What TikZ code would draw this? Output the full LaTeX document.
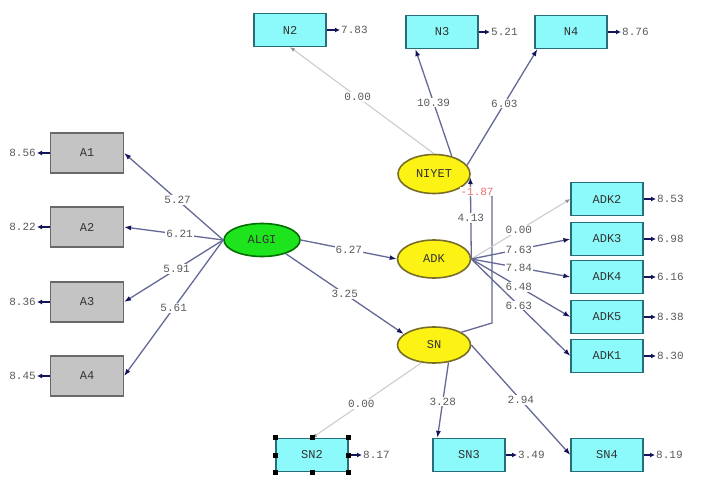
\documentclass[tikz,border=0pt]{standalone}
\usepackage{fontspec}
\setmonofont{Liberation Mono}
\usetikzlibrary{arrows.meta,shapes.geometric}
\definecolor{boxgray}{RGB}{196,196,196}
\definecolor{boxedge}{RGB}{105,105,105}
\definecolor{cyanfill}{RGB}{140,250,250}
\definecolor{cyanedge}{RGB}{40,110,120}
\definecolor{yellfill}{RGB}{252,242,20}
\definecolor{yelledge}{RGB}{120,110,40}
\definecolor{algigreen}{RGB}{30,228,30}
\definecolor{greenedge}{RGB}{0,110,0}
\definecolor{pathcol}{RGB}{100,105,150}
\definecolor{tipcol}{RGB}{20,20,90}
\definecolor{zerocol}{RGB}{205,205,205}
\definecolor{txtgray}{RGB}{90,90,90}
\definecolor{covred}{RGB}{235,110,110}

\begin{document}
\begin{tikzpicture}[
  x=1pt, y=-1pt,
  every node/.style={font=\ttfamily\fontsize{11}{13}\selectfont,text=txtgray},
  name font/.style={font=\ttfamily\fontsize{12}{14}\selectfont,text=black!80},
  obs gray/.style={rectangle,draw=boxedge,fill=boxgray,line width=1.2pt,minimum width=73pt,minimum height=40pt,inner sep=0pt,name font},
  obs cyan/.style={rectangle,draw=cyanedge,fill=cyanfill,line width=1.2pt,minimum width=72pt,minimum height=33pt,inner sep=0pt,name font},
  latent/.style={ellipse,draw=yelledge,fill=yellfill,line width=1.6pt,minimum width=73pt,minimum height=37pt,inner sep=0pt,name font},
  load line/.style={draw=pathcol,line width=1.3pt,-{Latex[length=7pt,width=5pt,color=tipcol]}},
  zero line/.style={draw=zerocol,line width=1.1pt,-{Latex[length=5pt,width=4pt,color=zerocol!70!black]}},
  err line/.style={draw=tipcol,line width=1.5pt,-{Latex[length=5pt,width=5pt]}},
  cov line/.style={draw=pathcol,line width=1.3pt},
  edge label/.style={fill=white,inner sep=1pt},
  err label/.style={inner sep=1pt},
  handle/.style={rectangle,fill=black,minimum size=5pt,inner sep=0pt},
]
\useasboundingbox[fill=white] (0,0) rectangle (708,484);

% observed variables
\node[obs gray] (A1) at (87,153) {A1};
\node[obs gray] (A2) at (87,227) {A2};
\node[obs gray] (A3) at (87,302) {A3};
\node[obs gray] (A4) at (87,376) {A4};
\node[obs cyan] (N2) at (290,30) {N2};
\node[obs cyan] (N3) at (442,32) {N3};
\node[obs cyan] (N4) at (571,32) {N4};
\node[obs cyan] (ADK2) at (607,199) {ADK2};
\node[obs cyan] (ADK3) at (607,239) {ADK3};
\node[obs cyan] (ADK4) at (607,277) {ADK4};
\node[obs cyan] (ADK5) at (607,317) {ADK5};
\node[obs cyan] (ADK1) at (607,356) {ADK1};
\node[obs cyan] (SN2) at (312,455) {SN2};
\node[obs cyan] (SN3) at (469,455) {SN3};
\node[obs cyan] (SN4) at (607,455) {SN4};

% latent variables
\node[latent,fill=algigreen,draw=greenedge,minimum width=76pt,minimum height=33pt] (ALGI) at (262,240) {ALGI};
\node[latent,minimum width=72pt,minimum height=39pt] (NIYET) at (434,174) {NIYET};
\node[latent,minimum height=38pt] (ADK) at (434,259) {ADK};
\node[latent,minimum height=36pt] (SN) at (434,345) {SN};

% error variances
\node[err label,anchor=east] (eA1) at (37,153) {8.56};
\node[err label,anchor=east] (eA2) at (37,227) {8.22};
\node[err label,anchor=east] (eA3) at (37,302) {8.36};
\node[err label,anchor=east] (eA4) at (37,376) {8.45};
\node[err label,anchor=west] (eN2) at (340,30) {7.83};
\node[err label,anchor=west] (eN3) at (490,32) {5.21};
\node[err label,anchor=west] (eN4) at (621,32) {8.76};
\node[err label,anchor=west] (eADK2) at (656,199) {8.53};
\node[err label,anchor=west] (eADK3) at (656,239) {6.98};
\node[err label,anchor=west] (eADK4) at (656,277) {6.16};
\node[err label,anchor=west] (eADK5) at (656,317) {8.38};
\node[err label,anchor=west] (eADK1) at (656,356) {8.30};
\node[err label,anchor=west] (eSN2) at (362,455) {8.17};
\node[err label,anchor=west] (eSN3) at (517,455) {3.49};
\node[err label,anchor=west] (eSN4) at (655,455) {8.19};
\draw[err line] (A1.west) -- (eA1.east);
\draw[err line] (A2.west) -- (eA2.east);
\draw[err line] (A3.west) -- (eA3.east);
\draw[err line] (A4.west) -- (eA4.east);
\draw[err line] (N2.east) -- (eN2.west);
\draw[err line] (N3.east) -- (eN3.west);
\draw[err line] (N4.east) -- (eN4.west);
\draw[err line] (ADK2.east) -- (eADK2.west);
\draw[err line] (ADK3.east) -- (eADK3.west);
\draw[err line] (ADK4.east) -- (eADK4.west);
\draw[err line] (ADK5.east) -- (eADK5.west);
\draw[err line] (ADK1.east) -- (eADK1.west);
\draw[err line] (SN2.east) -- (eSN2.west);
\draw[err line] (SN3.east) -- (eSN3.west);
\draw[err line] (SN4.east) -- (eSN4.west);

% ALGI loadings
\draw[load line] (ALGI.west) -- node[edge label,pos=0.46] {5.27} (A1.east);
\draw[load line] (ALGI.west) -- node[edge label,pos=0.44] {6.21} (A2.east);
\draw[load line] (ALGI.west) -- node[edge label,pos=0.47] {5.91} (A3.east);
\draw[load line] (ALGI.west) -- node[edge label,pos=0.5] {5.61} (A4.east);

% NIYET loadings
\draw[zero line] (NIYET.north) -- node[edge label,pos=0.53] {0.00} (N2.south);
\draw[load line] (NIYET.45) -- node[edge label,pos=0.5] {10.39} ([xshift=10pt]N3.south west);
\draw[load line] (NIYET.15) -- node[edge label,pos=0.53] {6.03} ([xshift=3pt]N4.south west);

% structural paths
\draw[load line] (ALGI.east) -- node[edge label,pos=0.5] {6.27} (ADK.west);
\draw[load line] (ALGI.-30) -- node[edge label,pos=0.5] {3.25} (SN.160);
\draw[load line] (ADK.east) -- node[edge label,pos=0.5] {4.13} (NIYET.-5);
\draw[cov line] (NIYET.-25) -- node[edge label,text=covred,pos=0.5] {-1.87} (492,196) -- (492,323) -- (SN.25);

% ADK loadings
\draw[zero line] (ADK.east) -- node[edge label,pos=0.48] {0.00} (ADK2.west);
\draw[load line] (ADK.east) -- node[edge label,pos=0.48] {7.63} (ADK3.west);
\draw[load line] (ADK.east) -- node[edge label,pos=0.48] {7.84} (ADK4.west);
\draw[load line] (ADK.east) -- node[edge label,pos=0.48] {6.48} (ADK5.west);
\draw[load line] (ADK.east) -- node[edge label,pos=0.48] {6.63} (ADK1.west);

% SN loadings
\draw[zero line] (SN.-125) -- node[edge label,pos=0.55] {0.00} (SN2.north);
\draw[load line] (SN.-50) -- node[edge label,pos=0.52] {3.28} ([xshift=5pt]SN3.north west);
\draw[load line] (SN.east) -- node[edge label,pos=0.5] {2.94} (SN4.west);

% selection handles
\foreach \a [count=\i] in {north west,north,north east,east,south east,south,south west,west}
  \node[handle] (hdl\i) at (SN2.\a) {};
\end{tikzpicture}
\end{document}
